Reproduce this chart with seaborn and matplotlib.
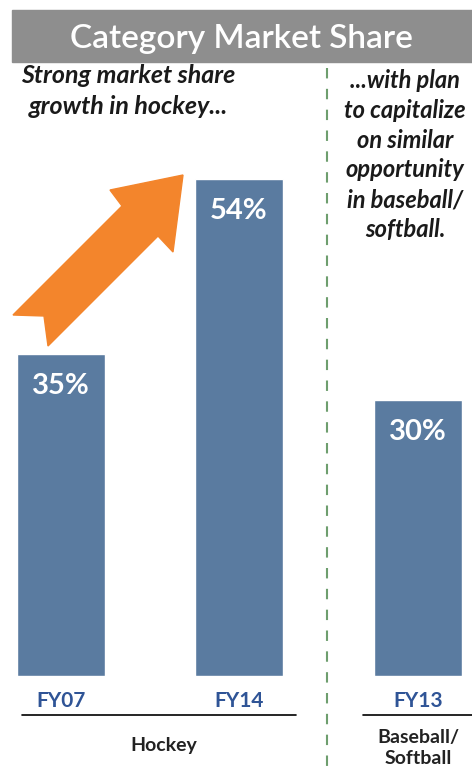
import matplotlib
matplotlib.use("Agg")
import matplotlib.pyplot as plt
import seaborn as sns
import pandas as pd
from matplotlib.patches import Polygon, Rectangle
from matplotlib.lines import Line2D

# ---- data ----
hockey_years = ["FY07", "FY14"]
hockey_share = [35, 54]
baseball_years = ["FY13"]
baseball_share = [30]
group_labels = ["Hockey", "Baseball/\nSoftball"]
title_text = "Category Market Share"
left_note = "Strong market share\ngrowth in hockey..."
right_note = "...with plan\nto capitalize\non similar\nopportunity\nin baseball/\nsoftball."

sns.set_theme(style="white")
plt.rcParams["font.family"] = ["Lato", "DejaVu Sans"]

W, H = 472, 773
fig = plt.figure(figsize=(W / 100, H / 100), dpi=100)


def fx(px):
    return px / W


def fy(py):
    return 1 - py / H


BAR = "#5A7BA0"
TICK = "#2F5496"
ymax = 60
px_per_unit = 9.2
bottom_px = 676
ax_h = ymax * px_per_unit

# ---- hockey axes ----
ax1 = fig.add_axes([fx(17), fy(bottom_px), 275 / W, ax_h / H])
df1 = pd.DataFrame({"year": hockey_years, "share": hockey_share})
sns.barplot(data=df1, x="year", y="share", color=BAR, width=0.496,
            saturation=1, errorbar=None, ax=ax1)
ax1.set_xlim(-0.25, 1.3)

# ---- baseball axes ----
ax2 = fig.add_axes([fx(350), fy(bottom_px), 122.4 / W, ax_h / H])
df2 = pd.DataFrame({"year": baseball_years, "share": baseball_share})
sns.barplot(data=df2, x="year", y="share", color=BAR, width=0.647,
            saturation=1, errorbar=None, ax=ax2)
ax2.set_xlim(-0.5, 0.4)

for ax, vals in ((ax1, hockey_share), (ax2, baseball_share)):
    ax.set_ylim(0, ymax)
    ax.set_yticks([])
    ax.set_xlabel("")
    ax.set_ylabel("")
    ax.patch.set_alpha(0)
    for s in ax.spines.values():
        s.set_visible(False)
    ax.tick_params(axis="x", length=0, pad=11)
    for lab in ax.get_xticklabels():
        lab.set_color(TICK)
        lab.set_fontweight("bold")
        lab.set_fontsize(15)
    for i, v in enumerate(vals):
        ax.text(i, v - 3.5, f"{v}%", ha="center", va="center",
                color="white", fontsize=21, fontweight="bold")

# ---- title bar ----
fig.add_artist(Rectangle((fx(12), fy(62)), fx(472) - fx(12), 52 / H,
                         transform=fig.transFigure, color="#8E8E8E", zorder=0))
fig.text(fx(241), fy(39), title_text, ha="center", va="center",
         color="white", fontsize=24, fontweight="semibold")

# ---- notes ----
fig.text(fx(128), fy(91), left_note, ha="center", va="center",
         fontsize=18, fontweight="bold", style="italic", color="#1a1a1a",
         linespacing=1.4)
fig.text(fx(405), fy(155), right_note, ha="center", va="center",
         fontsize=17, fontweight="bold", style="italic", color="#1a1a1a",
         linespacing=1.36)

# ---- separator ----
fig.add_artist(Line2D([fx(327), fx(327)], [fy(68), fy(773)],
                      transform=fig.transFigure, color="#6E9E6E", lw=1.5,
                      linestyle=(0, (5, 5))))

# ---- group underlines and labels ----
fig.add_artist(Line2D([fx(22), fx(296)], [fy(715), fy(715)],
                      transform=fig.transFigure, color="black", lw=1.2))
fig.add_artist(Line2D([fx(363), fx(472)], [fy(715), fy(715)],
                      transform=fig.transFigure, color="black", lw=1.2))
fig.text(fx(164), fy(745), group_labels[0], ha="center", va="center",
         fontsize=14, fontweight="bold", color="#222222")
fig.text(fx(418), fy(748), group_labels[1], ha="center", va="center",
         fontsize=14, fontweight="bold", color="#222222", linespacing=1.25)

# ---- growth arrow ----
arrow_px = [(183, 175), (173, 252), (158, 236), (48, 346), (44, 316),
            (13, 315), (122, 206), (110, 190)]
fig.add_artist(Polygon([(fx(x), fy(y)) for x, y in arrow_px], closed=True,
                       transform=fig.transFigure, color="#F3852C", zorder=3))

fig.savefig("out.png", dpi=100)
